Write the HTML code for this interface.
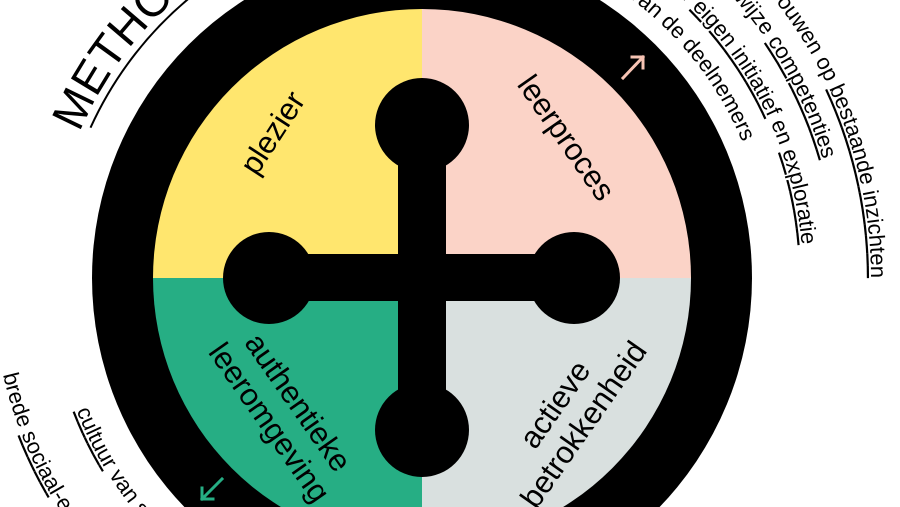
<!DOCTYPE html>
<html><head><meta charset="utf-8"><style>
html,body{margin:0;padding:0;background:#fff;width:900px;height:507px;overflow:hidden;}
svg{display:block;font-family:"Liberation Sans",sans-serif;}
</style></head><body>
<svg width="900" height="507" viewBox="0 0 900 507" xmlns="http://www.w3.org/2000/svg">
<defs>
<path id="p1" d="M197.5,-110.8 A449,449 0 0 1 871,278"/>
<path id="p2" d="M213,-84 A416,416 0 0 1 822.8,159.3"/>
<path id="p3" d="M231.5,-52 A380,380 0 0 1 801.6,244.8"/>
<path id="p4" d="M248,-23.4 A346,346 0 0 1 742.3,142"/>
<path id="l1" d="M3,374.7 A430,430 0 0 0 637,650"/>
<path id="l2" d="M76.6,410.6 A370,370 0 0 0 607,598.4"/>
<path id="m1" d="M79.6,132.6 A372,372 0 0 1 608,-44"/>
</defs>
<circle cx="422" cy="278" r="330" fill="#000"/>
<path d="M422,278 L422,9 A269,269 0 0 0 153,278 Z" fill="#FFE66E"/>
<path d="M422,278 L422,9 A269,269 0 0 1 691,278 Z" fill="#FBD3C7"/>
<path d="M422,278 L153,278 A269,269 0 0 0 422,547 Z" fill="#26AE84"/>
<path d="M422,278 L691,278 A269,269 0 0 1 422,547 Z" fill="#D9E0DF"/>
<rect x="398" y="125" width="48" height="305" fill="#000"/>
<rect x="270" y="254" width="303" height="47" fill="#000"/>
<circle cx="422" cy="125" r="47" fill="#000"/>
<circle cx="422" cy="430" r="47" fill="#000"/>
<circle cx="269" cy="278" r="46" fill="#000"/>
<circle cx="574" cy="278" r="46" fill="#000"/>

<g font-size="31" fill="#000" text-anchor="middle">
<text transform="translate(273,133) rotate(-57)" dy="10">plezier</text>
<text transform="translate(566,138) rotate(55)" dy="10">leerproces</text>
<text transform="translate(570,415) rotate(-55)"><tspan x="0" dy="-8">actieve</tspan><tspan x="0" dy="35">betrokkenheid</tspan></text>
<text transform="translate(283,413) rotate(55)"><tspan x="0" dy="-8">authentieke</tspan><tspan x="0" dy="35">leeromgeving</tspan></text>
</g>

<g font-size="22" fill="#000">
<text><textPath href="#p1" startOffset="100%" text-anchor="end">verder bouwen op <tspan text-decoration="underline">bestaande inzichten</tspan></textPath></text>
<text><textPath href="#p2" startOffset="100%" text-anchor="end">op eigen wijze <tspan text-decoration="underline">competenties</tspan></textPath></text>
<text><textPath href="#p3" startOffset="100%" text-anchor="end">ruimte voor <tspan text-decoration="underline">eigen initiatief</tspan> en <tspan text-decoration="underline">exploratie</tspan></textPath></text>
<text><textPath href="#p4" startOffset="100%" text-anchor="end">betrokkenheid van de deelnemers</textPath></text>
<text><textPath href="#l1">brede <tspan text-decoration="underline">sociaal</tspan>-emotionele ontwikkeling</textPath></text>
<text><textPath href="#l2"><tspan text-decoration="underline">cultuur</tspan> van samenwerken</textPath></text>
</g>
<text font-size="46" fill="#000"><textPath href="#m1">METHODIEK</textPath></text>
<path d="M90.5,127.7 A364,364 0 0 1 358.8,-80.5" fill="none" stroke="#000" stroke-width="2"/>

<g stroke-width="3" fill="none" stroke-linecap="square">
<path d="M623,78 L643,57 M632,57 L643,57 L643,68" stroke="#F6C3B3"/>
<path d="M222,479 L202,499 M202,488 L202,499 L213,499" stroke="#26AE84"/>
</g>
</svg>
</body></html>
